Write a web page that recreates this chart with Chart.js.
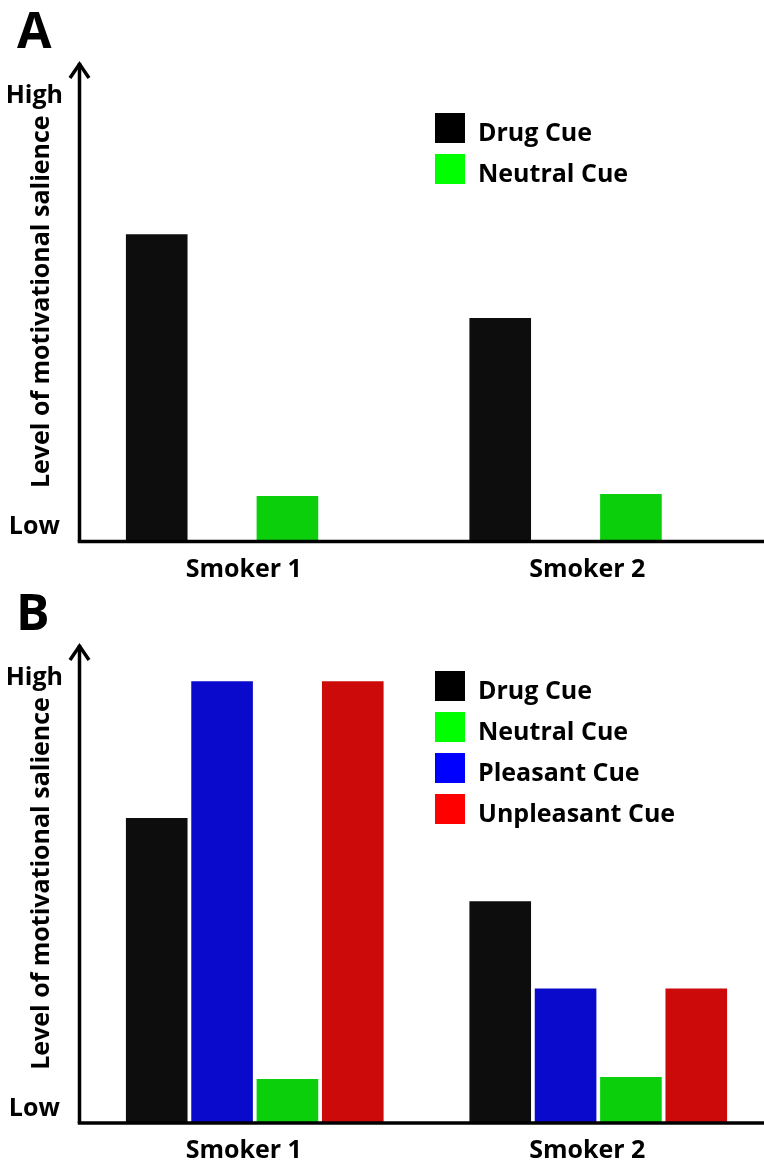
<!DOCTYPE html>
<html>
<head>
<meta charset="utf-8">
<script src="https://cdn.jsdelivr.net/npm/chart.js@4"></script>
<style>
  html, body { margin: 0; padding: 0; background: #fff; overflow: hidden; }
  canvas { display: block; }
</style>
</head>
<body>
<canvas id="chartA" width="770" height="582"></canvas>
<canvas id="chartB" width="770" height="583"></canvas>
<script>
// values, 0 = Low end of axis, 100 = arrow tip
const categories = ['Smoker 1', 'Smoker 2'];
const tickValues = [3, 93];
const tickLabels = ['Low', 'High'];

const drugA = [64.1, 46.6];
const neutralA = [9.5, 9.9];

const drugB = [63.7, 46.3];
const pleasantB = [92.2, 28.1];
const neutralB = [9.2, 9.6];
const unpleasantB = [92.2, 28.1];

const FONT = "'Open Sans', 'DejaVu Sans', sans-serif";

// draws the arrow axes, the panel letter and the boxed legend
const figurePlugin = {
    id: 'figure',
    afterDatasetsDraw(chart, args, opts) {
        const ctx = chart.ctx;
        const area = chart.chartArea;
        const ax = area.left - 3.5;

        ctx.save();
        ctx.strokeStyle = '#000';
        ctx.lineWidth = 3.5;

        ctx.beginPath();
        ctx.moveTo(ax, area.bottom);
        ctx.lineTo(ax, area.top + 1);
        ctx.stroke();

        ctx.beginPath();
        ctx.moveTo(ax - 9.5, area.top + 16);
        ctx.lineTo(ax, area.top + 2);
        ctx.lineTo(ax + 9.5, area.top + 16);
        ctx.stroke();

        ctx.beginPath();
        ctx.moveTo(ax - 1.75, area.bottom);
        ctx.lineTo(chart.width, area.bottom);
        ctx.stroke();

        // panel letter
        ctx.fillStyle = '#000';
        ctx.font = 'bold 50px ' + FONT;
        ctx.textBaseline = 'alphabetic';
        ctx.textAlign = 'left';
        ctx.fillText(opts.letter, opts.letterX, 48);

        // legend
        ctx.font = 'bold 25px ' + FONT;
        opts.items.forEach((item, i) => {
            const y = opts.legendTop + i * 41;
            ctx.fillStyle = item.color;
            ctx.fillRect(435, y, 30, 30);
            ctx.fillStyle = '#000';
            ctx.fillText(item.label, 478, y + 28);
        });
        ctx.restore();
    }
};

function makeChart(id, sets, letter, letterX, legendTop, items, xHeight) {
    return new Chart(document.getElementById(id), {
        type: 'bar',
        data: {
            labels: categories,
            datasets: sets.map(s => ({
                label: s.label,
                data: s.data,
                backgroundColor: s.color,
                borderWidth: 0,
                categoryPercentage: 0.761,
                barPercentage: 0.943
            }))
        },
        options: {
            responsive: false,
            animation: false,
            layout: { padding: { top: 62, left: 0, right: 0, bottom: 0 } },
            plugins: {
                legend: { display: false },
                tooltip: { enabled: false },
                figure: { letter: letter, letterX: letterX, legendTop: legendTop, items: items }
            },
            scales: {
                x: {
                    grid: { display: false, drawTicks: false },
                    border: { display: false },
                    ticks: {
                        color: '#000',
                        padding: 13,
                        labelOffset: -11,
                        font: { family: FONT, size: 25, weight: 'bold' }
                    },
                    afterFit: (scale) => { scale.height = xHeight; }
                },
                y: {
                    min: 0,
                    max: 100,
                    grid: { display: false, drawTicks: false },
                    border: { display: false },
                    afterBuildTicks: (scale) => {
                        scale.ticks = tickValues.map(v => ({ value: v }));
                    },
                    ticks: {
                        color: '#000',
                        padding: 20,
                        crossAlign: 'center',
                        autoSkip: false,
                        font: { family: FONT, size: 25, weight: 'bold' },
                        callback: (value) => tickLabels[tickValues.indexOf(value)]
                    },
                    title: {
                        display: true,
                        text: 'Level of motivational salience',
                        color: '#000',
                        padding: { top: 27 },
                        font: { family: FONT, size: 25, weight: 'bold' }
                    },
                    afterFit: (scale) => { scale.width = 83; }
                }
            }
        },
        plugins: [figurePlugin]
    });
}

const BLACK = '#0d0d0d', GREEN = '#0ccf0c', BLUE = '#0a0acc', RED = '#cc0a0a';

makeChart('chartA', [
    { label: 'Drug Cue', data: drugA, color: BLACK },
    { label: 'Pleasant Cue', data: [null, null], color: BLUE },
    { label: 'Neutral Cue', data: neutralA, color: GREEN },
    { label: 'Unpleasant Cue', data: [null, null], color: RED }
], 'A', 17, 113, [
    { label: 'Drug Cue', color: '#000000' },
    { label: 'Neutral Cue', color: '#00ff00' }
], 40.5);

makeChart('chartB', [
    { label: 'Drug Cue', data: drugB, color: BLACK },
    { label: 'Pleasant Cue', data: pleasantB, color: BLUE },
    { label: 'Neutral Cue', data: neutralB, color: GREEN },
    { label: 'Unpleasant Cue', data: unpleasantB, color: RED }
], 'B', 16, 89, [
    { label: 'Drug Cue', color: '#000000' },
    { label: 'Neutral Cue', color: '#00ff00' },
    { label: 'Pleasant Cue', color: '#0000ff' },
    { label: 'Unpleasant Cue', color: '#ff0000' }
], 42);
</script>
</body>
</html>
